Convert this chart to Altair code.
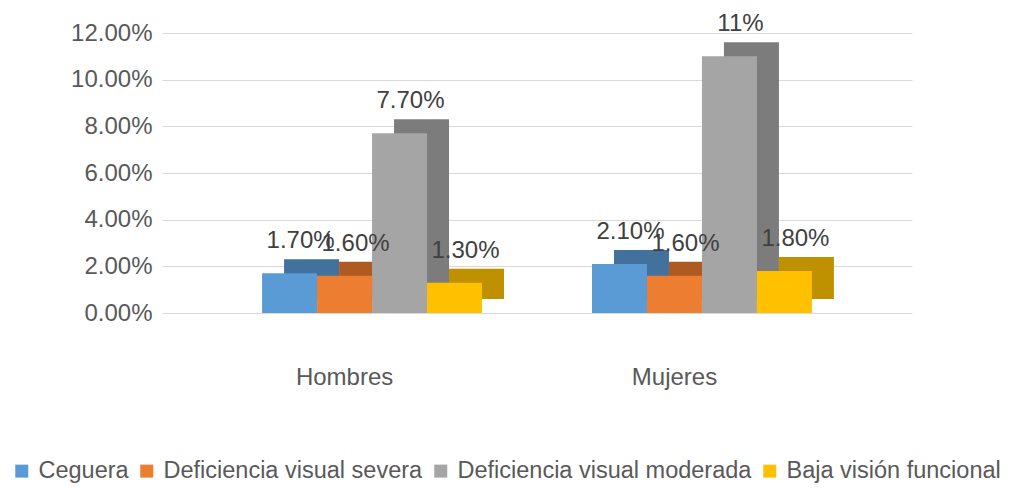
import altair as alt
import pandas as pd

grupos = ["Hombres", "Mujeres"]
series = ["Ceguera", "Deficiencia visual severa", "Deficiencia visual moderada", "Baja visión funcional"]
valores_hombres = [0.017, 0.016, 0.077, 0.013]
valores_mujeres = [0.021, 0.016, 0.11, 0.018]
etiquetas_hombres = ["1.70%", "1.60%", "7.70%", "1.30%"]
etiquetas_mujeres = ["2.10%", "1.60%", "11%", "1.80%"]
ticks_y = [0, 0.02, 0.04, 0.06, 0.08, 0.10, 0.12]

colores = ["#5B9BD5", "#ED7D31", "#A5A5A5", "#FFC000"]
colores_oscuros = ["#41719C", "#AE5A21", "#7C7C7C", "#BF9000"]

rows = []
for g, vals, labs in [("Hombres", valores_hombres, etiquetas_hombres),
                      ("Mujeres", valores_mujeres, etiquetas_mujeres)]:
    for s, v, l in zip(series, vals, labs):
        rows.append({"clave": g + "|" + s, "grupo": g, "serie": s, "valor": v, "etiqueta": l})
df = pd.DataFrame(rows)

# band domain: bars of each group side by side, with empty slots between/around groups
x_domain = (["|a"] + ["Hombres|" + s for s in series] + ["|b", "|c"]
            + ["Mujeres|" + s for s in series] + ["|d"])

FONT = "Liberation Sans"
FS = 24
DEPTH_X = 22
DEPTH_Y = -14

x_enc = alt.X("clave:N",
              scale=alt.Scale(domain=x_domain, paddingInner=0, paddingOuter=0.82),
              axis=alt.Axis(title=None, labelAngle=0, labelFontSize=FS, labelFont=FONT,
                            labelColor="#595959", ticks=False, domain=False, grid=False,
                            labelPadding=52, labelOffset=0,
                            labelExpr="split(datum.value, '|')[1] == 'Deficiencia visual severa' ? split(datum.value, '|')[0] : ''"))
y_enc = alt.Y("valor:Q", scale=alt.Scale(domain=[0, 0.12]),
              axis=alt.Axis(title=None, values=ticks_y, format=".2%", labelFontSize=FS,
                            labelFont=FONT, labelColor="#595959", ticks=False, domain=False,
                            gridColor="#D9D9D9", gridWidth=1, labelPadding=10))

base = alt.Chart(df).encode(x=x_enc, y=y_enc)

back = base.mark_bar(xOffset=DEPTH_X, yOffset=DEPTH_Y).encode(
    color=alt.Color("serie:N", sort=series,
                    scale=alt.Scale(domain=series, range=colores_oscuros), legend=None)
)

front = base.mark_bar().encode(
    color=alt.Color("serie:N", sort=series,
                    scale=alt.Scale(domain=series, range=colores),
                    legend=alt.Legend(title=None, orient="none", direction="horizontal",
                                      legendX=-152, legendY=426, columns=4,
                                      symbolType="square", symbolSize=169, symbolStrokeWidth=0,
                                      labelFontSize=23.5, labelFont=FONT, labelColor="#595959",
                                      columnPadding=6, labelOffset=5, symbolOffset=0,
                                      labelLimit=400))
)

text = base.mark_text(xOffset=DEPTH_X / 2, yOffset=DEPTH_Y - 6, fontSize=FS, font=FONT,
                      color="#404040", baseline="bottom").encode(text="etiqueta:N")

chart = alt.layer(back, front, text).resolve_scale(color="independent").properties(
    width=750, height=280,
    autosize=alt.AutoSizeParams(type="none"),
    padding={"top": 25, "left": 154, "right": 90, "bottom": 176}
).configure(background="white").configure_view(stroke=None)

chart.save("out.html", embed_options={"renderer": "svg", "actions": False})
